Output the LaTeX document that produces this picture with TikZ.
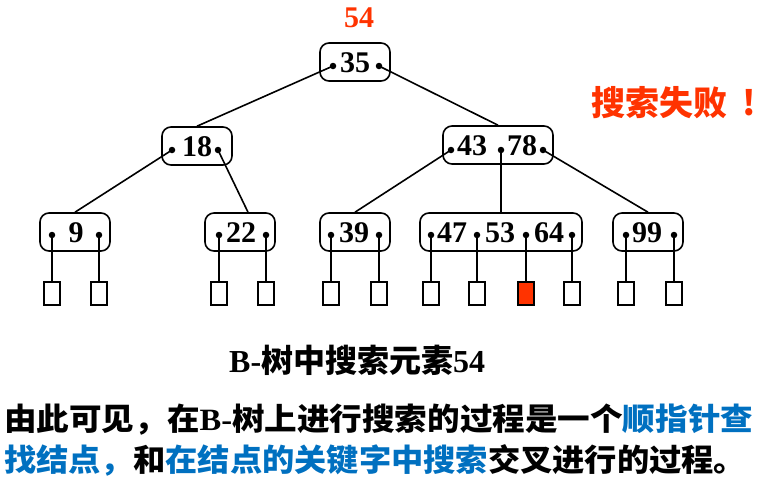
\documentclass[tikz,border=0pt]{standalone}
\usepackage{graphicx}
\usepackage{fontspec}
\setmainfont{Liberation Serif}
\newfontfamily\cjk{Noto Sans CJK SC}
\definecolor{redc}{HTML}{FF3300}
\definecolor{bluec}{HTML}{0070C0}
\newcommand\fwcomma{\makebox[1em][l]{，}}
\tikzset{
  bbox/.style={draw, line width=1.6pt, rounded corners=9pt, minimum height=38pt, inner sep=0pt},
  num/.style={font=\bfseries\fontsize{30}{36}\selectfont, inner sep=0pt},
  dotn/.style={circle, fill, inner sep=0pt, minimum size=6.5pt},
  sq/.style={draw, line width=1.4pt, minimum width=16pt, minimum height=23pt, inner sep=0pt},
  edge/.style={line width=1.6pt},
  txt/.style={inner sep=0pt, font=\bfseries\fontsize{31}{36}\selectfont}
}
\begin{document}
\begin{tikzpicture}[x=1pt,y=-1pt]
\useasboundingbox (0,0) rectangle (760,480);
% boxes
\node[bbox, minimum width=70pt] (r) at (355,62) {};
\node[bbox, minimum width=70pt] (a) at (197,146) {};
\node[bbox, minimum width=110pt] (b) at (498,145) {};
\node[bbox, minimum width=70pt] (l1) at (75,232) {};
\node[bbox, minimum width=70pt] (l2) at (240,232) {};
\node[bbox, minimum width=70pt] (l3) at (355,232) {};
\node[bbox, minimum width=162pt] (l4) at (501,232) {};
\node[bbox, minimum width=70pt] (l5) at (648,232) {};
% numbers
\node[num] (n35) at (355,63) {35};
\node[num] (n18) at (197,147) {18};
\node[num] (n43) at (472,146) {43};
\node[num] (n78) at (522,146) {78};
\node[num] (n9) at (76,233) {9};
\node[num] (n22) at (241,233) {22};
\node[num] (n39) at (354,233) {39};
\node[num] (n47) at (452,233) {47};
\node[num] (n53) at (500,233) {53};
\node[num] (n64) at (549,233) {64};
\node[num] (n99) at (647,233) {99};
% dots
\node[dotn] (r1) at (333,66) {};
\node[dotn] (r2) at (379,66) {};
\node[dotn] (a1) at (172,150) {};
\node[dotn] (a2) at (218,150) {};
\node[dotn] (b1) at (451,150) {};
\node[dotn] (b2) at (501,150) {};
\node[dotn] (b3) at (543,150) {};
\node[dotn] (p1) at (52,235) {};
\node[dotn] (p2) at (99,235) {};
\node[dotn] (p3) at (219,235) {};
\node[dotn] (p4) at (266,235) {};
\node[dotn] (p5) at (331,235) {};
\node[dotn] (p6) at (379,235) {};
\node[dotn] (p7) at (431,235) {};
\node[dotn] (p8) at (477,235) {};
\node[dotn] (p9) at (526,235) {};
\node[dotn] (p10) at (572,235) {};
\node[dotn] (p11) at (626,235) {};
\node[dotn] (p12) at (674,235) {};
% squares
\node[sq] (s1) at (52,293.5) {};
\node[sq] (s2) at (99,293.5) {};
\node[sq] (s3) at (219,293.5) {};
\node[sq] (s4) at (266,293.5) {};
\node[sq] (s5) at (331,293.5) {};
\node[sq] (s6) at (379,293.5) {};
\node[sq] (s7) at (431,293.5) {};
\node[sq] (s8) at (477,293.5) {};
\node[sq, fill=redc] (s9) at (526,293.5) {};
\node[sq] (s10) at (572,293.5) {};
\node[sq] (s11) at (626,293.5) {};
\node[sq] (s12) at (674,293.5) {};
% tree edges
\draw[edge] (r1.center) -- (a.north);
\draw[edge] (r2.center) -- (b.north);
\draw[edge] (a1.center) -- (l1.north);
\draw[edge] (a2.center) -- ([xshift=8pt]l2.north);
\draw[edge] (b1.center) -- (l3.north);
\draw[edge] (b2.center) -- (l4.north);
\draw[edge] (b3.center) -- (l5.north);
\foreach \i in {1,...,12} { \draw[edge] (p\i.center) -- (s\i.north); }
% texts
\node[num, text=redc] (t54) at (359,18) {54};
\node[inner sep=0pt, anchor=west, text=redc, font=\cjk\bfseries\fontsize{34}{40}\selectfont] (fail) at (591,103) {搜索失败\hspace{15pt}!};
\node[txt, anchor=west, font=\bfseries\fontsize{32}{36}\selectfont] (cap) at (229,360) {B-{\cjk 树中搜索元素}54};
\node[txt, anchor=west] (line1) at (4,420) {\resizebox{749pt}{\height}{{\cjk 由此可见\fwcomma 在}B-{\cjk 树上进行搜索的过程是一个\textcolor{bluec}{顺指针查}}}};
\node[txt, anchor=west] (line2) at (4,460) {\resizebox{742pt}{\height}{{\cjk \textcolor{bluec}{找结点\fwcomma}和\textcolor{bluec}{在结点的关键字中搜索}交叉进行的过程。}}};
\end{tikzpicture}
\end{document}
